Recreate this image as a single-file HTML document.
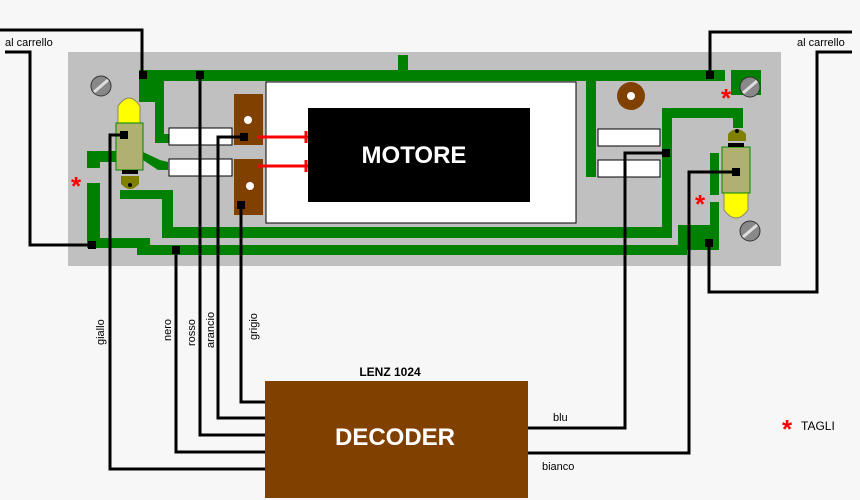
<!DOCTYPE html>
<html><head><meta charset="utf-8"><style>
html,body{margin:0;padding:0;background:#f7f7f7;}
svg{display:block;}
text{font-family:"Liberation Sans",sans-serif;}
</style></head><body>
<svg width="860" height="500" viewBox="0 0 860 500" xmlns="http://www.w3.org/2000/svg">
<rect x="0" y="0" width="860" height="500" fill="#f7f7f7"/>
<rect x="68" y="52" width="713" height="214" fill="#c0c0c0"/>
<g fill="#008000">
<rect x="139" y="70" width="586" height="11"/>
<rect x="398" y="55" width="10" height="18"/>
<rect x="139" y="70" width="25" height="32"/>
<rect x="155" y="100" width="9" height="43"/>
<rect x="155" y="134" width="14" height="9"/>
<polygon points="143,152 160,160 168,162 168,170 158,170 143,160"/>
<rect x="87" y="151" width="30" height="11"/>
<rect x="87" y="151" width="13" height="17"/>
<rect x="87" y="183" width="13" height="65"/>
<rect x="87" y="238" width="63" height="10"/>
<rect x="137" y="238" width="13" height="17"/>
<rect x="137" y="245" width="550" height="10"/>
<rect x="120" y="190" width="53" height="9"/>
<rect x="162" y="190" width="11" height="48"/>
<rect x="162" y="227" width="510" height="11"/>
<rect x="662" y="108" width="10" height="130"/>
<rect x="662" y="108" width="81" height="10"/>
<rect x="733" y="108" width="10" height="20"/>
<rect x="586" y="75" width="10" height="102"/>
<rect x="678" y="225" width="41" height="25"/>
<rect x="710" y="153" width="9" height="42"/>
<rect x="710" y="202" width="9" height="48"/>
<rect x="731" y="70" width="30" height="25"/>
</g>
<g fill="#fff" stroke="#000" stroke-width="1">
<rect x="169" y="128" width="63" height="17"/>
<rect x="169" y="159" width="63" height="17"/>
<rect x="598" y="129" width="62" height="17"/>
<rect x="598" y="160" width="62" height="17"/>
<rect x="266" y="82" width="310" height="141"/>
</g>
<rect x="234" y="94" width="29" height="51" fill="#804000"/>
<rect x="234" y="159" width="29" height="56" fill="#804000"/>
<circle cx="248" cy="120" r="4" fill="#fff"/>
<circle cx="250" cy="186" r="4" fill="#fff"/>
<rect x="308" y="108" width="222" height="94" fill="#000"/>
<text x="414" y="163" fill="#fff" font-size="24" font-weight="bold" text-anchor="middle">MOTORE</text>
<g stroke="#f00" stroke-width="3">
<line x1="258" y1="137" x2="308" y2="137"/><line x1="306" y1="131" x2="306" y2="143"/>
<line x1="258" y1="166" x2="308" y2="166"/><line x1="306" y1="160" x2="306" y2="172"/>
</g>
<g stroke="#333" stroke-width="1" fill="#888">
<circle cx="101" cy="86" r="10"/><circle cx="750" cy="87" r="10"/><circle cx="750" cy="231" r="10"/>
</g>
<g stroke="#ddd" stroke-width="3">
<line x1="94" y1="92" x2="108" y2="80"/><line x1="743" y1="93" x2="757" y2="81"/><line x1="743" y1="237" x2="757" y2="225"/>
</g>
<circle cx="631" cy="96" r="14" fill="#804000"/><circle cx="631" cy="96" r="4" fill="#fff"/>
<!-- left bulb -->
<path d="M118,124 L118,106 Q129,90 140,106 L140,124 Z" fill="#ff0" stroke="#886" stroke-width="1"/>
<rect x="116" y="123" width="27" height="47" fill="#b0b070" stroke="#080" stroke-width="1"/>
<rect x="122" y="170" width="16" height="4" fill="#000"/>
<path d="M121,176 L139,176 L139,184 Q130,194 121,184 Z" fill="#808000"/>
<circle cx="130" cy="185" r="2" fill="#000"/>
<!-- right bulb -->
<path d="M724,193 L748,193 L748,210 Q736,226 724,210 Z" fill="#ff0" stroke="#886" stroke-width="1"/>
<rect x="722" y="147" width="28" height="46" fill="#b0b070" stroke="#080" stroke-width="1"/>
<rect x="728" y="143" width="16" height="4" fill="#000"/>
<path d="M728,141 L746,141 L746,134 Q737,124 728,134 Z" fill="#808000"/>
<circle cx="737" cy="131" r="2" fill="#000"/>
<!-- wires -->
<g fill="none" stroke="#000" stroke-width="3">
<polyline points="5,52 30,52 30,245 92,245"/>
<polyline points="0,30 142,30 142,75"/>
<polyline points="710,75 710,32 852,32"/>
<polyline points="709,243 709,292 817,292 817,52 852,52"/>
<polyline points="124,135 110,135 110,469 265,469"/>
<polyline points="176,250 176,452 265,452"/>
<polyline points="200,75 200,435 265,435"/>
<polyline points="244,137 218,137 218,418 265,418"/>
<polyline points="241,205 241,402 265,402"/>
<polyline points="666,153 625,153 625,428 527,428"/>
<polyline points="736,172 689,172 689,453 527,453"/>
</g>
<g fill="#000">
<rect x="139" y="71" width="8" height="8"/><rect x="88" y="241" width="8" height="8"/>
<rect x="706" y="71" width="8" height="8"/><rect x="705" y="239" width="8" height="8"/>
<rect x="120" y="131" width="8" height="8"/><rect x="172" y="246" width="8" height="8"/>
<rect x="196" y="71" width="8" height="8"/><rect x="240" y="133" width="8" height="8"/>
<rect x="237" y="201" width="8" height="8"/><rect x="662" y="149" width="8" height="8"/>
<rect x="732" y="168" width="8" height="8"/>
</g>
<g fill="#f00" font-size="26" font-weight="bold" text-anchor="middle">
<text x="76" y="195">*</text><text x="726" y="107">*</text><text x="700" y="213">*</text><text x="787" y="438">*</text>
</g>
<g font-size="11" fill="#000">
<text x="5" y="46">al carrello</text>
<text x="797" y="46">al carrello</text>
<text x="553" y="421">blu</text>
<text x="542" y="470">bianco</text>
<text x="801" y="430" font-size="12">TAGLI</text>
<text x="390" y="376" font-size="12" font-weight="bold" text-anchor="middle">LENZ 1024</text>
<text transform="translate(104,345) rotate(-90)">giallo</text>
<text transform="translate(171,341) rotate(-90)">nero</text>
<text transform="translate(195,346) rotate(-90)">rosso</text>
<text transform="translate(214,348) rotate(-90)">arancio</text>
<text transform="translate(257,340) rotate(-90)">grigio</text>
</g>
<rect x="265" y="381" width="263" height="117" fill="#804000"/>
<text x="395" y="445" fill="#fff" font-size="24" font-weight="bold" text-anchor="middle">DECODER</text>
</svg>
</body></html>
